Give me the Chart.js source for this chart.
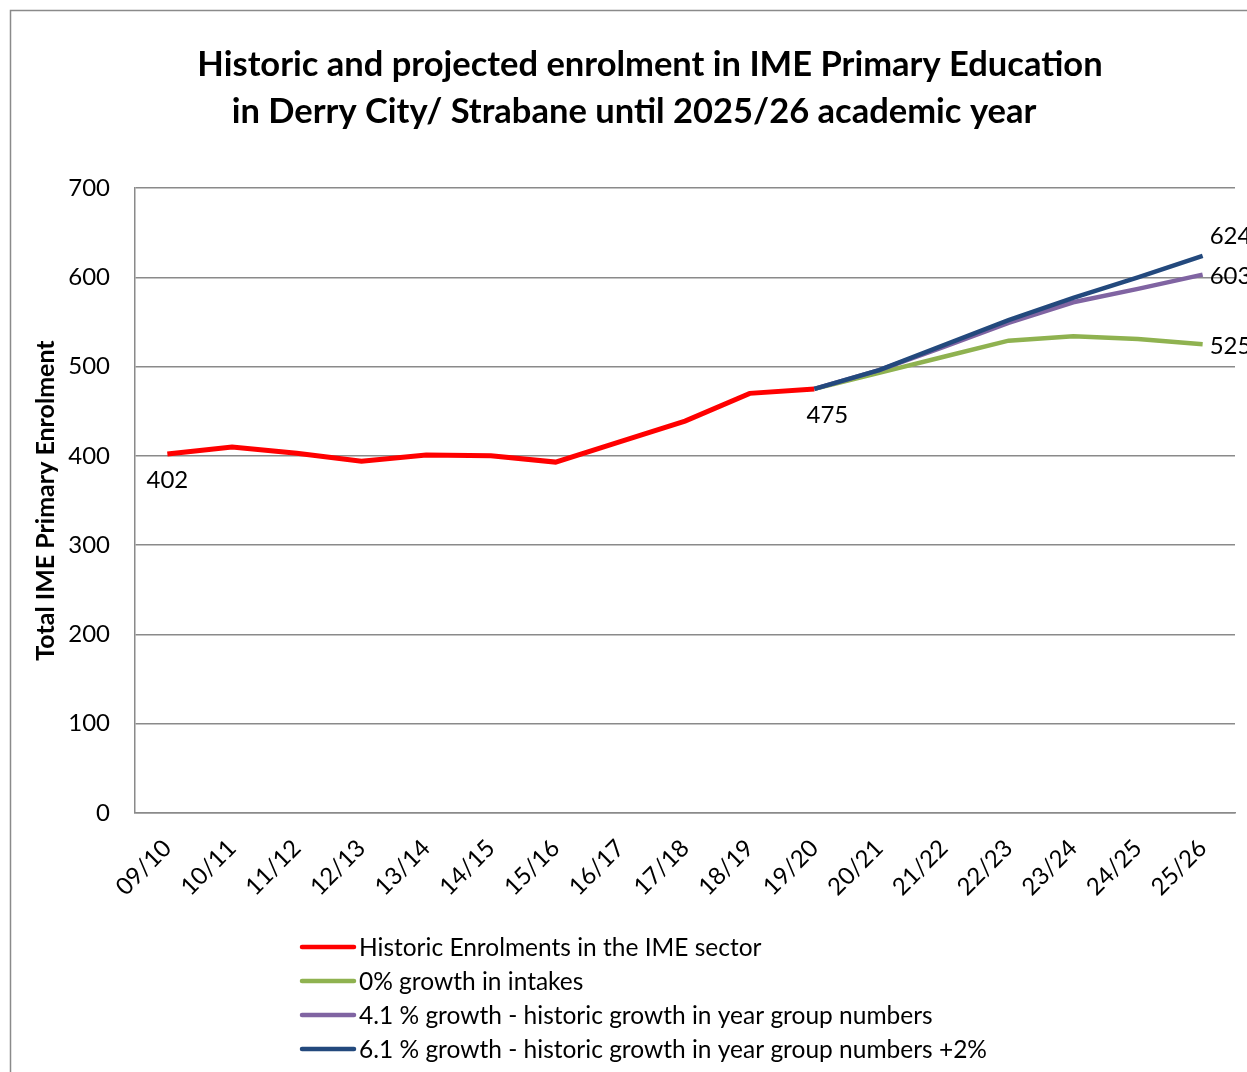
<!DOCTYPE html>
<html>
<head>
<meta charset="utf-8">
<title>IME Primary enrolment</title>
<script src="https://cdn.jsdelivr.net/npm/chart.js@4.4.0/dist/chart.umd.min.js"></script>
<style>
  html, body { margin: 0; padding: 0; background: #fff; }
  canvas { display: block; }
</style>
</head>
<body>
<canvas id="enrolChart" width="1247" height="1072"></canvas>
<script>
// academic years on the x axis
const years = ['09/10', '10/11', '11/12', '12/13', '13/14', '14/15', '15/16', '16/17', '17/18',
  '18/19', '19/20', '20/21', '21/22', '22/23', '23/24', '24/25', '25/26'];

// series values
const historic  = [402, 410, 403, 394, 401, 400, 393, 416, 439, 470, 475, null, null, null, null, null, null];
const noGrowth  = [null, null, null, null, null, null, null, null, null, null, 475, 493, 511, 529, 534, 531, 525];
const growth41  = [null, null, null, null, null, null, null, null, null, null, 475, 496, 522, 549, 572, 587, 603];
const growth61  = [null, null, null, null, null, null, null, null, null, null, 475, 496, 524, 552, 577, 600, 624];

const yTicks = [0, 100, 200, 300, 400, 500, 600, 700];

const titleLines = ['Historic and projected enrolment in IME Primary Education',
  'in Derry City/ Strabane until 2025/26 academic year'];

const FONT = 'Lato, "Open Sans", sans-serif';

// outer frame, title, value labels and the stacked legend
const decorations = {
  id: 'decorations',
  beforeDraw(chart) {
    const ctx = chart.ctx;
    ctx.save();
    ctx.fillStyle = '#fff';
    ctx.fillRect(0, 0, chart.width, chart.height);
    ctx.strokeStyle = '#8a8a8a';
    ctx.lineWidth = 1.5;
    ctx.strokeRect(10.5, 10.5, 1400, 1400);
    ctx.restore();
  },
  afterDraw(chart) {
    const ctx = chart.ctx;
    ctx.save();
    ctx.fillStyle = '#000';

    // title
    ctx.font = 'bold 34.5px ' + FONT;
    ctx.textAlign = 'center';
    ctx.textBaseline = 'middle';
    ctx.fillText(titleLines[0], 650, 65);
    ctx.fillText(titleLines[1], 634, 112);

    // value labels
    ctx.font = '24px ' + FONT;
    const labels = [
      { ds: 0, i: 0, dx: 0, dy: 26, align: 'center' },
      { ds: 0, i: 10, dx: 13, dy: 26, align: 'center' },
      { ds: 3, i: 16, dx: 7, dy: -20, align: 'left' },
      { ds: 2, i: 16, dx: 7, dy: 2, align: 'left' },
      { ds: 1, i: 16, dx: 7, dy: 2, align: 'left' }
    ];
    labels.forEach(l => {
      const pt = chart.getDatasetMeta(l.ds).data[l.i];
      const v = chart.data.datasets[l.ds].data[l.i];
      ctx.textAlign = l.align;
      ctx.fillText(String(v), pt.x + l.dx, pt.y + l.dy);
    });

    // legend
    ctx.font = '24.5px ' + FONT;
    ctx.textAlign = 'left';
    chart.data.datasets.forEach((ds, k) => {
      const y = 947 + k * 34;
      ctx.strokeStyle = ds.borderColor;
      ctx.lineWidth = 4.5;
      ctx.lineCap = 'round';
      ctx.beginPath();
      ctx.moveTo(302, y);
      ctx.lineTo(354, y);
      ctx.stroke();
      ctx.fillText(ds.label, 359, y + 1);
    });
    ctx.restore();
  }
};

const lineStyle = { pointRadius: 0, pointHoverRadius: 0, tension: 0, borderWidth: 4.5, spanGaps: false, fill: false };

new Chart(document.getElementById('enrolChart'), {
  type: 'line',
  data: {
    labels: years,
    datasets: [
      { label: 'Historic Enrolments in the IME sector', data: historic, borderColor: '#ff0000', order: 3, ...lineStyle, borderWidth: 5 },
      { label: '0% growth in intakes', data: noGrowth, borderColor: '#8fb250', order: 2, ...lineStyle },
      { label: '4.1 % growth - historic growth in year group numbers', data: growth41, borderColor: '#8064a2', order: 1, ...lineStyle },
      { label: '6.1 % growth - historic growth in year group numbers +2%', data: growth61, borderColor: '#23497d', order: 0, ...lineStyle }
    ]
  },
  options: {
    responsive: false,
    animation: false,
    layout: { padding: { top: 188, left: 30, right: 12, bottom: 159 } },
    plugins: {
      legend: { display: false },
      title: { display: false },
      tooltip: { enabled: false }
    },
    scales: {
      x: {
        offset: true,
        grid: { display: false, drawTicks: false },
        border: { color: '#8a8a8a', width: 1.5 },
        ticks: {
          color: '#000',
          font: { family: FONT, size: 24 },
          minRotation: 45,
          maxRotation: 45,
          padding: 21,
          autoSkip: false
        },
        afterFit(scale) { scale.height = 100; }
      },
      y: {
        min: 0,
        max: 700,
        afterBuildTicks(scale) { scale.ticks = yTicks.map(v => ({ value: v })); },
        grid: { color: '#8a8a8a', lineWidth: 1.5, drawTicks: false },
        border: { color: '#8a8a8a', width: 1.5 },
        ticks: {
          color: '#000',
          font: { family: FONT, size: 24 },
          padding: 25
        },
        title: {
          display: true,
          text: 'Total IME Primary Enrolment',
          color: '#000',
          font: { family: FONT, size: 25, weight: 'bold' },
          padding: { top: 1, bottom: 0 }
        },
        afterFit(scale) { scale.width = 105; }
      }
    }
  },
  plugins: [decorations]
});
</script>
</body>
</html>
